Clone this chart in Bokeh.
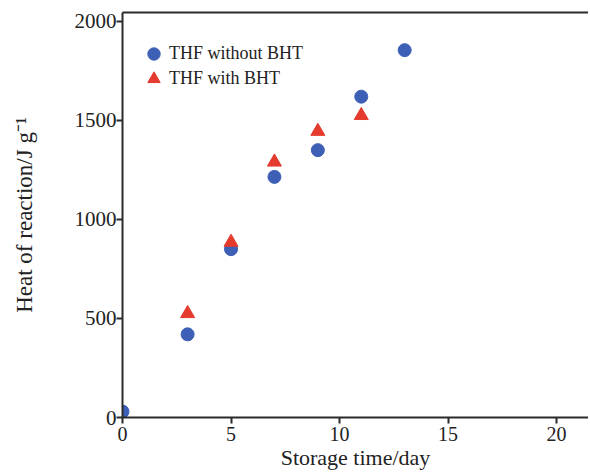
from bokeh.plotting import figure
from bokeh.models import LinearAxis, Range1d, FixedTicker, Legend, LegendItem
from bokeh.embed import file_html
from bokeh.resources import INLINE

# data
days_without = [0, 3, 5, 7, 9, 11, 13]
heat_without = [30, 420, 850, 1215, 1350, 1620, 1855]
days_with = [3, 5, 7, 9, 11]
heat_with = [525, 885, 1290, 1445, 1525]
x_ticks = [0, 5, 10, 15, 20]
y_ticks = [0, 500, 1000, 1500, 2000]

FONT = "Liberation Serif"
AX = "#2b2b2b"

p = figure(width=588, height=472, output_backend="svg", toolbar_location=None,
           x_range=Range1d(0, 21.47), y_range=Range1d(0, 2045),
           min_border_left=122, min_border_right=0, min_border_top=12, min_border_bottom=50)
p.outline_line_color = None
p.grid.visible = False
p.background_fill_color = "white"
p.border_fill_color = "white"

for ax in (p.xaxis[0], p.yaxis[0]):
    ax.axis_line_color = AX
    ax.axis_line_width = 2
    ax.major_tick_line_color = AX
    ax.major_tick_line_width = 2
    ax.major_tick_in = 0
    ax.major_tick_out = 6
    ax.minor_tick_line_color = None
    ax.major_label_text_font = FONT
    ax.major_label_text_color = "#222222"
    ax.axis_label_text_font = FONT
    ax.axis_label_text_font_style = "normal"
    ax.axis_label_text_color = "#222222"

p.xaxis.major_label_text_font_size = "20px"
p.yaxis.major_label_text_font_size = "21px"
p.xaxis.axis_label_text_font_size = "22px"
p.yaxis.axis_label_text_font_size = "23px"

p.xaxis.ticker = FixedTicker(ticks=x_ticks)
p.yaxis.ticker = FixedTicker(ticks=y_ticks)
p.xaxis.axis_label = "Storage time/day"
p.yaxis.axis_label = "Heat of reaction/J g\u207b\u00b9"
p.xaxis.major_label_standoff = 3
p.xaxis.axis_label_standoff = 1
p.yaxis.major_label_standoff = 0
p.yaxis.axis_label_standoff = 35

top = LinearAxis(axis_line_color=AX, axis_line_width=2, major_tick_line_color=None,
                 minor_tick_line_color=None, major_label_text_font_size="0px",
                 major_label_standoff=0, major_tick_out=0, major_tick_in=0)
top.ticker = FixedTicker(ticks=[])
p.add_layout(top, "above")

c = p.scatter(days_without, heat_without, marker="circle", size=13,
              fill_color="#3d5fb5", line_color="#3d5fb5")
t = p.scatter(days_with, heat_with, marker="triangle", size=14,
              fill_color="#e53a2e", line_color="#e53a2e")


def make_legend(label, renderer, loc):
    lg = Legend(items=[LegendItem(label=label, renderers=[renderer])], location=loc)
    lg.label_text_font = FONT
    lg.label_text_font_size = "18px"
    lg.label_text_color = "#222222"
    lg.border_line_color = None
    lg.background_fill_alpha = 0
    lg.glyph_width = 31
    lg.glyph_height = 31
    lg.label_standoff = 0
    lg.spacing = 0
    lg.margin = 0
    lg.padding = 0
    return lg


p.add_layout(make_legend("THF without BHT", c, (16, 348.5)))
p.add_layout(make_legend("THF with BHT", t, (16, 323.5)))

open("out.html", "w").write(file_html(p, INLINE))
